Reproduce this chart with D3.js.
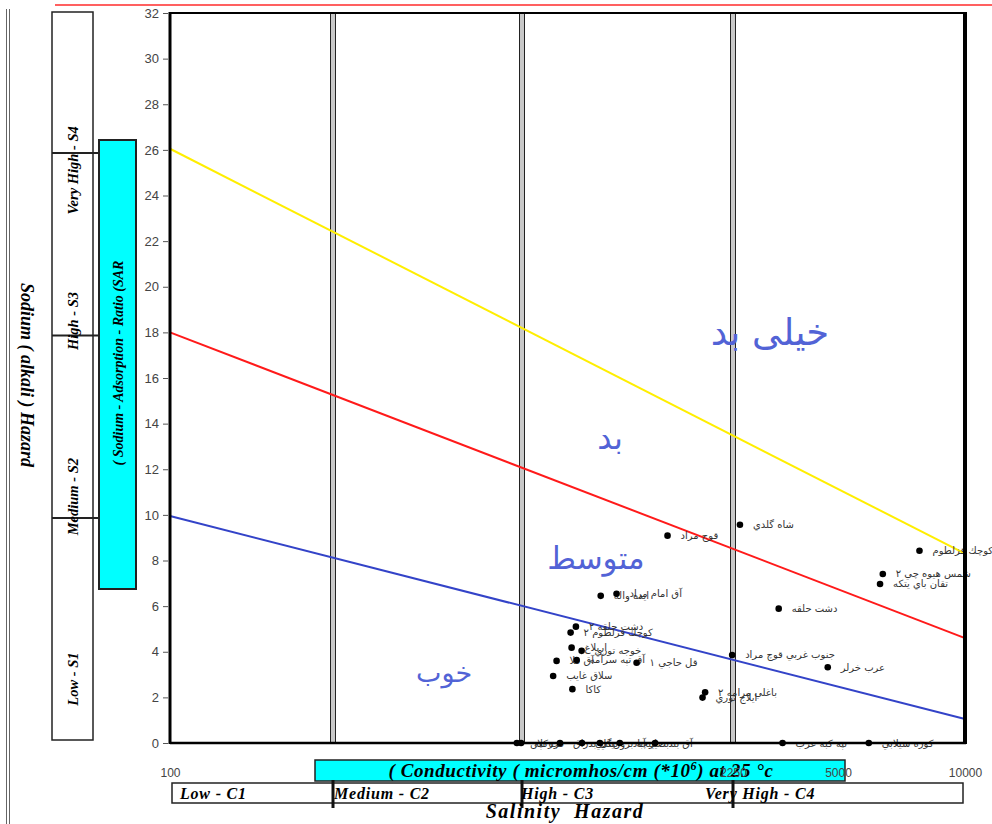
<!DOCTYPE html>
<html><head><meta charset="utf-8">
<script src="https://cdn.jsdelivr.net/npm/d3@7/dist/d3.min.js"></script>
<style>body{margin:0;background:#fff}svg{display:block}</style>
</head><body><svg id="c" width="992" height="824"></svg>
<script>
// ---------- data ----------
const xTickValues = [100, 250, 750, 2250, 5000, 10000];
const xTickLabels = ["100", "250", "750", "2250", "5000", "10000"];
const yTickValues = [0, 2, 4, 6, 8, 10, 12, 14, 16, 18, 20, 22, 24, 26, 28, 30, 32];
const salinityBounds = [250, 750, 2250];
const salinityClasses = ["Low - C1", "Medium - C2", "High - C3", "Very High - C4"];
const sodiumBounds = [10, 18, 26];
const sodiumClasses = ["Low - S1", "Medium - S2", "High - S3", "Very High - S4"];
const sodiumClassCenters = [2.8, 10.8, 18.5, 25.1];
const boundaryNames = ["S1-S2", "S2-S3", "S3-S4"];
const boundaryStartSAR = [9.95, 18.0, 26.05];
const boundaryEndSAR = [1.05, 4.6, 8.3];
const zoneNames = ["خيلی بد", "بد", "متوسط", "خوب"];
const zoneEC = [2980, 1186, 1102, 477];
const zoneSAR = [17.9, 13.3, 8.0, 3.0];
const pointNames = [
  "شاه گلدي", "قوج مراد", "كوچك قزلطوم", "شمس هيوه چي ٢", "تقان باي يتكه",
  "دشت حلقه", "جنوب غربي قوچ مراد", "عرب خرلر", "باغلي مرامه ٢", "ايلاج توري",
  "ايده واله", "آق امام مراد", "دشت حلقه ٢", "كوچك قزلطوم ٢", "ارپلاغ",
  "خوجه توري", "آق قلا", "آق تپه سرآمه", "قل حاجي ١", "سلاق غايب", "كاكا",
  "جركلان", "قره تپه", "يلي بدراق", "تنگلي", "اينچه برون", "بصير آباد",
  "آق بند", "تپه كبه عرب", "كوره سيلابي"
];
const pointEC = [
  2372, 1600, 7800, 6385, 6290,
  3185, 2240, 4625, 1946, 1920,
  1130, 1227, 993, 966, 971,
  1023, 898, 997, 1362, 882, 975,
  728, 746, 914, 1025, 1125, 1248,
  1500, 3280, 5915
];
const pointSAR = [
  9.57, 9.09, 8.43, 7.41, 6.97,
  5.89, 3.86, 3.32, 2.22, 1.99,
  6.45, 6.54, 5.10, 4.84, 4.18,
  4.04, 3.60, 3.64, 3.52, 2.94, 2.36,
  0, 0, 0, 0, 0, 0,
  0, 0, 0
];

// ---------- layout ----------
const svg = d3.select("#c");
const serif = "'Liberation Serif','DejaVu Serif',serif";
const sans = "'Liberation Sans',Arial,sans-serif";
const arab = "'DejaVu Sans',sans-serif";

const x = d3.scaleLog()
  .domain(xTickValues)
  .range([170, 333, 522, 733, 838, 965]);
const y = d3.scaleLinear().domain([0, 32]).range([743, 13]);

// top red rule and left double rule
svg.append("line").attr("x1", 55).attr("x2", 992).attr("y1", 5).attr("y2", 5)
  .attr("stroke", "#ff2b2b").attr("stroke-width", 1.5);
[6.5, 9.5].forEach(v => svg.append("line").attr("x1", v).attr("x2", v)
  .attr("y1", 9).attr("y2", 824).attr("stroke", "#666").attr("stroke-width", 1));

// y title
svg.append("text").attr("transform", "translate(21,375) rotate(90)")
  .attr("text-anchor", "middle").attr("font-family", serif)
  .attr("font-weight", "bold").attr("font-style", "italic").attr("font-size", 18)
  .attr("fill", "#000").text("Sodium ( alkali ) Hazard");

// sodium class box
svg.append("rect").attr("x", 52).attr("y", y(32) - 1).attr("width", 41)
  .attr("height", y(0) - y(32) - 2).attr("fill", "#fff")
  .attr("stroke", "#222").attr("stroke-width", 1.5);
svg.selectAll(".sb").data(sodiumBounds).join("line")
  .attr("x1", 52).attr("x2", 99).attr("y1", d => y(d) + 3).attr("y2", d => y(d) + 3)
  .attr("stroke", "#222").attr("stroke-width", 2);
svg.selectAll(".sl").data(sodiumClasses).join("text")
  .attr("transform", (d, i) => `translate(78,${y(sodiumClassCenters[i])}) rotate(-90)`)
  .attr("text-anchor", "middle").attr("font-family", serif)
  .attr("font-weight", "bold").attr("font-style", "italic").attr("font-size", 14.5)
  .text(d => d);

// cyan SAR box
svg.append("rect").attr("x", 99).attr("y", 140).attr("width", 37).attr("height", 449)
  .attr("fill", "#00ffff").attr("stroke", "#222").attr("stroke-width", 2);
svg.append("text").attr("transform", "translate(123,363) rotate(-90)")
  .attr("text-anchor", "middle").attr("font-family", serif)
  .attr("font-weight", "bold").attr("font-style", "italic").attr("font-size", 14)
  .text("( Sodium - Adsorption - Ratio (SAR");

// y axis
const yAxis = svg.append("g").attr("transform", "translate(168,0)")
  .call(d3.axisLeft(y).tickValues(yTickValues).tickSize(5).tickPadding(4));
yAxis.select(".domain").remove();
yAxis.selectAll("line").attr("stroke", "#555");
yAxis.selectAll("text").attr("font-family", sans).attr("font-size", 13).attr("fill", "#444");

// vertical class lines (double)
salinityBounds.forEach(b => {
  svg.append("rect").attr("x", x(b) - 2.5).attr("y", y(32)).attr("width", 5)
    .attr("height", y(0) - y(32)).attr("fill", "#c8c8c8")
    .attr("stroke", "#222").attr("stroke-width", 1);
});

// boundary lines
const lineColors = ["#3343c8", "#ff1a1a", "#ffee00"];
boundaryNames.forEach((n, i) => {
  svg.append("line")
    .attr("x1", x(100)).attr("y1", y(boundaryStartSAR[i]))
    .attr("x2", x(10000)).attr("y2", y(boundaryEndSAR[i]))
    .attr("stroke", lineColors[i]).attr("stroke-width", 2);
});

// zone labels
const zoneSize = [37, 32, 31, 27];
svg.selectAll(".zn").data(zoneNames).join("text")
  .attr("x", (d, i) => x(zoneEC[i])).attr("y", (d, i) => y(zoneSAR[i]))
  .attr("text-anchor", "middle").attr("dominant-baseline", "middle")
  .attr("font-family", arab).attr("font-size", (d, i) => zoneSize[i])
  .attr("fill", "#5263d6").text(d => d);

// points
const pts = pointNames.map((n, i) => ({ n, ec: pointEC[i], sar: pointSAR[i] }));
svg.selectAll(".pl").data(pts).join("text")
  .attr("x", d => x(d.ec) + 13).attr("y", d => y(d.sar) + 3.5)
  .attr("font-family", arab).attr("font-size", 10).attr("fill", "#333")
  .text(d => d.n);
svg.selectAll(".pt").data(pts).join("circle")
  .attr("cx", d => x(d.ec)).attr("cy", d => y(d.sar)).attr("r", 3.3)
  .attr("fill", "#000");

// frame
svg.append("line").attr("x1", 170).attr("x2", 965).attr("y1", y(32)).attr("y2", y(32))
  .attr("stroke", "#000").attr("stroke-width", 2);
svg.append("line").attr("x1", 170).attr("x2", 966).attr("y1", y(0)).attr("y2", y(0))
  .attr("stroke", "#000").attr("stroke-width", 2.5);
svg.append("line").attr("x1", 170).attr("x2", 170).attr("y1", y(32) - 1).attr("y2", y(0) + 1)
  .attr("stroke", "#000").attr("stroke-width", 3);
svg.append("line").attr("x1", 965).attr("x2", 965).attr("y1", y(32) - 1).attr("y2", y(0) + 1)
  .attr("stroke", "#000").attr("stroke-width", 4);

// x tick labels
const xAxis = svg.append("g").attr("transform", "translate(0,764)")
  .call(d3.axisBottom(x).tickValues(xTickValues).tickSize(0).tickPadding(4)
    .tickFormat((d, i) => xTickLabels[i]));
xAxis.select(".domain").remove();
xAxis.selectAll("text").attr("font-family", sans).attr("font-size", 12).attr("fill", "#444");

// cyan conductivity box
svg.append("rect").attr("x", 315).attr("y", 760).attr("width", 530).attr("height", 21)
  .attr("fill", "#00ffff").attr("stroke", "#222").attr("stroke-width", 1.5);
const ct = svg.append("text").attr("x", 581).attr("y", 777).attr("text-anchor", "middle")
  .attr("font-family", serif).attr("font-weight", "bold").attr("font-style", "italic")
  .attr("font-size", 19).attr("letter-spacing", 0.6);
ct.append("tspan").text("( Conductivity ( micromhos/cm (*10");
ct.append("tspan").attr("dy", -7).attr("font-size", 12).text("6");
ct.append("tspan").attr("dy", 7).text(") at 25 °c");

// labels of the two upper ticks sit over the box, as in the original
svg.node().appendChild(xAxis.node());
xAxis.selectAll(".tick").filter(d => d > 100 && d < 2000).remove();
const hidden = svg.insert("g", "rect").attr("transform", "translate(0,764)")
  .call(d3.axisBottom(x).tickValues([250, 750]).tickSize(0).tickPadding(4)
    .tickFormat(d => xTickLabels[xTickValues.indexOf(d)]));
hidden.select(".domain").remove();
hidden.selectAll("text").attr("font-family", sans).attr("font-size", 12).attr("fill", "#444");

// salinity class box
svg.append("rect").attr("x", 172).attr("y", 783).attr("width", 791).attr("height", 20)
  .attr("fill", "#fff").attr("stroke", "#222").attr("stroke-width", 1.5);
svg.selectAll(".cb").data(salinityBounds).join("line")
  .attr("x1", d => x(d)).attr("x2", d => x(d)).attr("y1", 780).attr("y2", 808)
  .attr("stroke", "#111").attr("stroke-width", 3);
const clsX = [x(100) + 10, x(250) + 1, x(750) - 1, x(2250) - 28];
svg.selectAll(".cl").data(salinityClasses).join("text")
  .attr("x", (d, i) => clsX[i]).attr("y", 799)
  .attr("font-family", serif).attr("font-weight", "bold").attr("font-style", "italic")
  .attr("font-size", 16).attr("letter-spacing", 0.8).text(d => d);

svg.append("text").attr("x", 565).attr("y", 818).attr("text-anchor", "middle")
  .attr("font-family", serif).attr("font-weight", "bold").attr("font-style", "italic")
  .attr("font-size", 20).attr("letter-spacing", 1.5).attr("xml:space", "preserve")
  .text("Salinity  Hazard");
</script></body></html>
